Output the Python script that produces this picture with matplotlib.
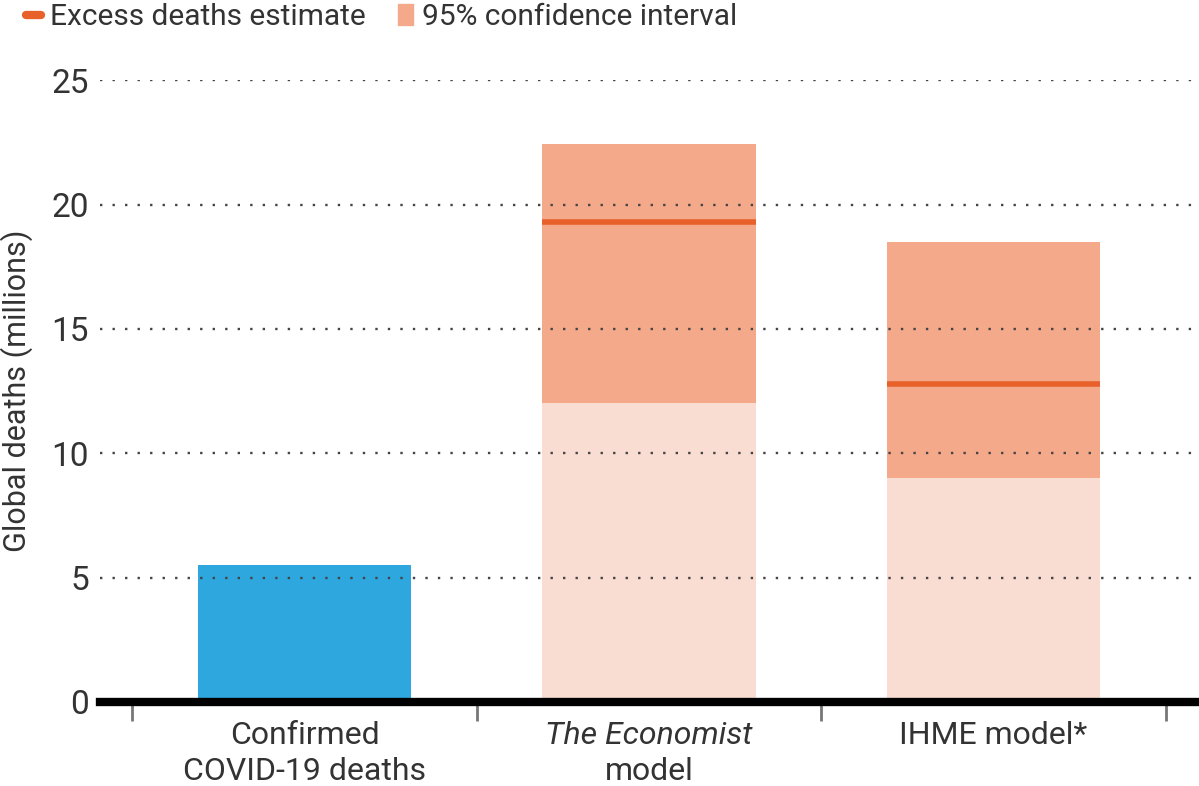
import numpy as np
import matplotlib.pyplot as plt
from matplotlib.lines import Line2D
from matplotlib.patches import Patch
import matplotlib.transforms as mtransforms

plt.rcParams['font.family'] = ['Roboto', 'DejaVu Sans']

# data (millions of deaths)
confirmed = 5.5
models = ["The Economist", "IHME"]
ci_low = [12.0, 9.0]
ci_high = [22.45, 18.5]
estimate = [19.3, 12.8]

blue = "#2ea7df"
ci_dark = "#f4a98a"
ci_light = "#f9ddd2"
est_col = "#e8602a"
text_col = "#333333"

fig = plt.figure(figsize=(11.99, 7.86), dpi=100)
ax = fig.add_axes([0.0834, 0.107, 0.9166, 0.791])

w = 0.62
ax.bar(0, confirmed, width=w, color=blue, zorder=1)
xm = np.array([1, 2])
ax.bar(xm, ci_low, width=w, color=ci_light, zorder=1)
ax.bar(xm, np.array(ci_high) - np.array(ci_low), bottom=ci_low, width=w,
       color=ci_dark, zorder=1)
for x, e in zip(xm, estimate):
    ax.plot([x - w / 2, x + w / 2], [e, e], color=est_col, lw=4,
            solid_capstyle='butt', zorder=3)

ax.set_xlim(-0.594, 2.597)
ax.set_ylim(0, 25)
ax.set_yticks([0, 5, 10, 15, 20, 25])
ax.yaxis.grid(True, linestyle=(0, (1, 4.3)), color="#444444", lw=1.7, zorder=2)
ax.set_axisbelow(False)
for s in ["top", "right", "left"]:
    ax.spines[s].set_visible(False)
ax.spines["bottom"].set_linewidth(6)
ax.spines["bottom"].set_color("black")
ax.spines["bottom"].set_zorder(4)

ax.tick_params(axis='y', length=0, labelsize=24, labelcolor=text_col, pad=8)
ax.set_xticks([0, 1, 2])
ax.set_xticklabels([])
ax.tick_params(axis='x', which='major', length=0)
ax.set_xticks([-0.5, 0.5, 1.5, 2.5], minor=True)
ax.tick_params(axis='x', which='minor', length=14, width=2, color="#777777",
               direction='out')

ax.set_ylabel("Global deaths (millions)", fontsize=22, color=text_col)
ax.yaxis.set_label_coords(-0.061, 0.5)

# category labels
tr = mtransforms.blended_transform_factory(ax.transData, fig.transFigure)
lab = dict(transform=tr, ha='center', va='center', fontsize=23, color=text_col)
ax.text(0, 1 - 735 / 786, "Confirmed", **lab)
ax.text(0, 1 - 771 / 786, "COVID-19 deaths", **lab)
ax.text(1, 1 - 735 / 786, "The Economist", style='italic', **lab)
ax.text(1, 1 - 771 / 786, "model", **lab)
ax.text(2, 1 - 735 / 786, "IHME model*", **lab)

handles = [Line2D([], [], color=est_col, lw=6, solid_capstyle='round'),
           Patch(color=ci_dark)]
fig.legend(handles, ["Excess deaths estimate", "95% confidence interval"],
           loc='upper left', bbox_to_anchor=(-0.001, 1.03), ncol=2,
           frameon=False, fontsize=21.5, handlelength=0.5, handletextpad=0.3,
           columnspacing=1.1, labelcolor=text_col)

fig.savefig("out.png", dpi=100)
